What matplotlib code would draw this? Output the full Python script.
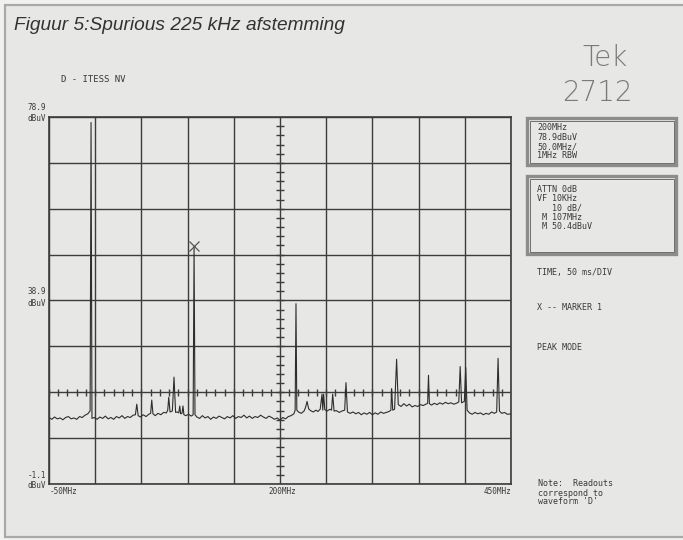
import matplotlib

matplotlib.use("Agg")
import matplotlib.pyplot as plt
from matplotlib.patches import Rectangle
import numpy as np

# Tek 2712 readout settings
F_START, F_CENTER, F_STOP = -50, 200, 450      # MHz
MHZ_PER_DIV = 50
REF_LEVEL, BOTTOM_LEVEL = 78.9, -1.1            # dBuV
DB_PER_DIV = 10
TICK_LINE_DBUV = 18.9                           # graticule line with minor ticks
MARKER_MHZ, MARKER_DBUV = 107, 50.4

# trace (MHz, dBuV)
TRACE_MHZ = [
    -50, -47, -44, -41, -38, -35, -32, -29, -26, -23, -20, -17, -14, -11, -8, -6.5,
    -5.5, -4.5, -3.5,
    -1, 2, 5, 8, 11, 14, 17, 20, 23, 26, 29, 32, 35, 38, 41, 43.5, 45, 46.5,
    49, 52, 55, 58, 60, 61.2, 62.5, 65, 68, 71, 74, 77, 78.5, 79.6, 81, 83.5,
    85.3, 87, 89, 90.5, 91.5, 92.5, 94, 95, 96, 98, 101, 104, 106, 107, 108,
    110, 113, 116, 119, 122, 125, 128, 131, 134, 137, 140, 143, 146, 149, 152,
    155, 158, 161, 164, 167, 170, 173, 176, 179, 182, 185, 188, 191, 194, 197,
    200, 203, 206, 209, 212, 215, 216.4, 217.3, 218.2, 220, 223, 226, 227.5,
    229.3, 231, 233, 236, 239, 241, 243.5, 245.5, 246.3, 247.2, 248.5, 251, 254,
    255.8, 257, 258.5, 261, 264, 267, 270, 271.4, 273, 276, 279, 282, 285, 288,
    291, 294, 297, 300, 303, 306, 309, 312, 315, 318, 320, 320.8, 322, 324,
    326.2, 328, 331, 334, 337, 340, 343, 346, 349, 352, 355, 358, 359.8, 360.7,
    361.7, 364, 367, 370, 373, 376, 379, 382, 385, 388, 391, 393.5, 395, 396.5,
    399.5, 401, 402.5, 405, 408, 411, 414, 417, 420, 423, 426, 429, 432, 434.5,
    436, 437.5, 440, 443, 446, 450,
]
TRACE_DBUV = [
    13.4, 13.0, 13.5, 13.1, 13.3, 12.9, 13.4, 13.6, 13.1, 13.3, 13.0, 13.6, 13.4, 13.9, 14.2, 14.6,
    14.8, 77.7, 13.2,
    13.4, 13.0, 13.5, 13.2, 13.7, 13.1, 13.4, 13.0, 13.6, 13.3, 13.8, 13.2, 13.6, 13.4, 13.9, 14.0, 16.3, 13.8,
    13.5, 14.0, 13.6, 14.1, 14.3, 17.2, 14.2, 13.8, 14.3, 14.0, 14.5, 14.4, 15.0, 17.8, 14.6, 14.8,
    22.2, 14.5, 14.6, 14.4, 15.9, 14.2, 14.3, 15.9, 14.0, 13.8, 14.1, 13.7, 14.0, 50.4, 14.0,
    13.5, 13.2, 13.8, 13.3, 13.6, 13.0, 13.5, 13.2, 13.7, 13.4, 13.1, 13.6, 13.3, 13.8, 13.2,
    13.6, 13.4, 13.9, 13.3, 13.7, 13.2, 13.6, 13.4, 13.9, 13.5, 13.2, 13.7, 13.4, 13.0, 13.3,
    12.8, 13.4, 13.1, 13.6, 13.8, 14.2, 15.0, 38.2, 15.0, 14.6, 14.3, 14.8, 15.5,
    16.9, 15.3, 14.9, 14.6, 15.0, 14.7, 15.2, 18.5, 15.0, 18.5, 15.1, 14.8, 15.2,
    15.0, 18.5, 14.8, 14.9, 14.5, 14.8, 15.0, 21.0, 14.6, 14.3, 14.6, 14.2, 14.5, 14.0,
    14.4, 14.1, 14.5, 14.0, 14.4, 14.1, 14.6, 14.3, 14.5, 14.7, 15.0, 19.7, 15.0, 15.2,
    26.1, 16.2, 15.8, 16.4, 15.9, 16.3, 15.7, 16.0, 15.8, 16.2, 16.0, 16.3, 16.5, 22.6,
    16.4, 16.1, 16.5, 16.2, 16.6, 16.3, 16.7, 16.4, 16.6, 16.3, 16.5, 16.8, 24.5, 16.6,
    16.9, 24.3, 15.0, 14.4, 14.1, 14.5, 14.2, 14.4, 14.0, 14.3, 14.1, 14.6, 14.3, 14.6,
    26.3, 14.8, 14.3, 14.5, 14.1, 14.2,
]

LEFT_READOUT = ["78.9", "38.9", "-1.1"]
BOX1_LINES = ["200MHz", "78.9dBuV", "50.0MHz/", "1MHz RBW"]
BOX2_LINES = ["ATTN 0dB", "VF 10KHz", "   10 dB/", " M 107MHz", " M 50.4dBuV"]

W, H = 683, 540
PAGE = "#e7e7e5"
INK = "#3a3a3a"
GRID = "#3c3c3c"
BOXEDGE = "#8c8c8a"
MONO = "DejaVu Sans Mono"

fig = plt.figure(figsize=(W / 100, H / 100), dpi=100)
fig.patch.set_facecolor("#f1f1ef")

# page overlay in pixel coordinates (origin top-left)
pg = fig.add_axes([0, 0, 1, 1], zorder=0)
pg.set_xlim(0, W)
pg.set_ylim(H, 0)
pg.axis("off")
pg.add_patch(Rectangle((5, 5), W, 532, facecolor=PAGE, edgecolor="#a9a9a7", lw=1.6))

# screen graticule
px_l, px_r, px_t, px_b = 49, 511, 117, 484
ax = fig.add_axes([px_l / W, 1 - px_b / H, (px_r - px_l) / W, (px_b - px_t) / H], zorder=1)
ax.patch.set_alpha(0)
ax.set_xlim(F_START, F_STOP)
ax.set_ylim(BOTTOM_LEVEL, REF_LEVEL)
ax.set_xticks(np.arange(F_START, F_STOP + 1, MHZ_PER_DIV))
ax.set_yticks(np.arange(BOTTOM_LEVEL, REF_LEVEL + 0.01, DB_PER_DIV))
ax.tick_params(length=0, labelbottom=False, labelleft=False)
ax.grid(True, color=GRID, lw=1.0)
for s in ax.spines.values():
    s.set_color(GRID)
    s.set_linewidth(1.2)

# minor ticks on centre vertical and on the 18.9 dBuV line
hx = 4.2 * (F_STOP - F_START) / (px_r - px_l)
hy = 3.7 * (REF_LEVEL - BOTTOM_LEVEL) / (px_b - px_t)
ymin = np.arange(BOTTOM_LEVEL, REF_LEVEL, DB_PER_DIV / 5)
ax.hlines(ymin, F_CENTER - hx, F_CENTER + hx, color=GRID, lw=1.0)
xmin = np.arange(F_START, F_STOP, MHZ_PER_DIV / 5)
ax.vlines(xmin, TICK_LINE_DBUV - hy, TICK_LINE_DBUV + hy, color=GRID, lw=1.0)

ax.plot(TRACE_MHZ, TRACE_DBUV, color="#2e2e2e", lw=0.8, zorder=3)
ax.plot([MARKER_MHZ], [MARKER_DBUV + 0.4], marker="x", ms=7, mew=0.9,
        color="#555555", zorder=4)

# title and instrument header
pg.text(14, 26, "Figuur 5:Spurious 225 kHz afstemming", fontsize=13.8,
        style="italic", family="Liberation Sans", color="#333333", va="center")
pg.text(605, 58, "Tek", fontsize=20, color="#7a7a7a", ha="center", va="center",
        fontweight="light")
pg.text(597, 93, "2712", fontsize=20, color="#7a7a7a", ha="center", va="center",
        fontweight="light")
pg.text(61, 80, "D - ITESS NV", fontsize=6.5, family=MONO, color=INK, va="center")

# left level readouts
for lbl, ys in zip(LEFT_READOUT, [(108, 118.5), (291, 303), (476, 486)]):
    pg.text(46, ys[0], lbl, fontsize=5.5, family=MONO, color=INK, ha="right", va="center")
    pg.text(46, ys[1], "dBuV", fontsize=5.5, family=MONO, color=INK, ha="right", va="center")

# frequency readouts
pg.text(50, 491, "-50MHz", fontsize=5.5, family=MONO, color=INK, va="center")
pg.text(282, 491, "200MHz", fontsize=5.5, family=MONO, color=INK, ha="center", va="center")
pg.text(511, 492, "450MHz", fontsize=5.5, family=MONO, color=INK, ha="right", va="center")

# side panel boxes
for (y0, h) in [(118, 47), (176, 78)]:
    pg.add_patch(Rectangle((527, y0), 149, h, facecolor="none", edgecolor=BOXEDGE, lw=2.4))
    pg.add_patch(Rectangle((529.5, y0 + 2.5), 144, h - 5, facecolor="none",
                           edgecolor="#6e6e6c", lw=0.7))
for i, t in enumerate(BOX1_LINES):
    pg.text(537, 128 + i * 9.3, t, fontsize=6, family=MONO, color=INK, va="center")
for i, t in enumerate(BOX2_LINES):
    pg.text(537, 189.5 + i * 9.3, t, fontsize=6, family=MONO, color=INK, va="center")

pg.text(537, 272, "TIME, 50 ms/DIV", fontsize=6, family=MONO, color=INK, va="center")
pg.text(537, 307, "X -- MARKER 1", fontsize=6, family=MONO, color=INK, va="center")
pg.text(537, 347, "PEAK MODE", fontsize=6, family=MONO, color=INK, va="center")
for i, t in enumerate(["Note:  Readouts", "correspond to", "waveform 'D'"]):
    pg.text(538, 484 + i * 9, t, fontsize=6, family=MONO, color=INK, va="center")

fig.savefig("out.png", dpi=100, facecolor=fig.get_facecolor())
